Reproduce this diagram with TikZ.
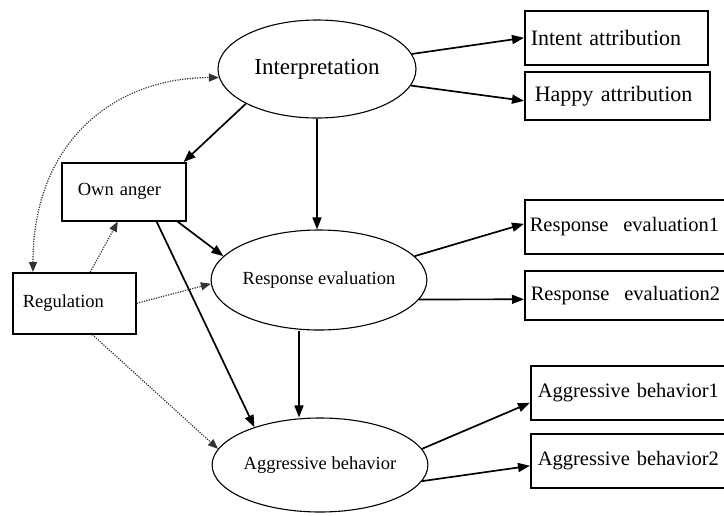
\documentclass[tikz,border=0pt]{standalone}
\usepackage{fontspec}
\setmainfont{Liberation Serif}
\usetikzlibrary{arrows.meta,calc,shapes.geometric}
\begin{document}
\begin{tikzpicture}[x=1pt,y=-1pt,
  lat/.style={draw, ellipse, line width=1.1pt, inner sep=0pt, font=\fontsize{18.5}{21}\selectfont},
  obs/.style={draw, rectangle, line width=1.6pt, inner ysep=0pt, anchor=north west, align=left, font=\fontsize{20.5}{24}\selectfont},
  tobs/.style={obs, font=\fontsize{22}{25}\selectfont},
  lobs/.style={obs, font=\fontsize{18.5}{21}\selectfont},
  arr/.style={line width=1.7pt, -{Triangle[length=12pt,width=9pt]}},
  dotarr/.style={line width=1.2pt, black!80, dash pattern=on 1.2pt off 1.3pt, -{Triangle[length=10pt,width=8pt]}}
]
\useasboundingbox (0,0) rectangle (724,515);
\clip (0,0) rectangle (724,515);

% latent variables
\node[lat, minimum width=198pt, minimum height=98pt, font=\fontsize{23}{26}\selectfont] (interp) at (317,69) {Interpretation};
\node[lat, minimum width=204pt, minimum height=100pt] (resp) at (319,280) {Response evaluation};
\node[lat, minimum width=204pt, minimum height=94pt] (aggr) at (320,465) {Aggressive behavior};

% observed boxes, left
\node[lobs, inner xsep=16pt, text width=92pt, minimum height=58pt] (own) at (61,162) {Own anger};
\node[lobs, inner xsep=10pt, text width=103pt, minimum height=61pt] (reg) at (12,272) {Regulation};

% observed boxes, right
\node[tobs, inner xsep=6pt, text width=171pt, minimum height=54pt] (intent) at (524,10) {Intent attribution};
\node[tobs, inner xsep=10pt, text width=165pt, minimum height=48pt] (happy) at (524,71) {Happy attribution};
\node[obs, inner xsep=5pt, text width=220pt, minimum height=54pt] (re1) at (524,199) {Response\hspace{15pt}evaluation1};
\node[obs, inner xsep=6pt, text width=218pt, minimum height=49pt] (re2) at (524,270) {Response\hspace{15pt}evaluation2};
\node[obs, inner xsep=7pt, text width=206pt, minimum height=54pt] (ab1) at (530,365) {Aggressive behavior1};
\node[obs, inner xsep=7pt, text width=206pt, minimum height=54pt] (ab2) at (530,433) {Aggressive behavior2};

% solid paths
\draw[arr] (interp.9) -- (intent.west);
\draw[arr] (interp.-10) -- ($(happy.west)+(0,5)$);
\draw[arr] (interp.206) -- ($(own.north east)+(-3,0)$);
\draw[arr] (interp.south) -- (interp.south |- resp.north);
\draw[arr] ($(own.south east)+(-9,0)$) -- (resp.166);
\draw[arr] ($(own.south east)+(-30,0)$) -- (aggr.150);
\coordinate (rs) at ($(resp.south)+(-20,0)$);
\draw[arr] (rs) -- (rs |- aggr.north);
\draw[arr] (resp.14) -- ($(re1.west)+(0,-3)$);
\draw[arr] (resp.-11) -- ($(re2.west)+(0,4)$);
\draw[arr] (aggr.9) -- ($(ab1.west)+(0,10)$);
\draw[arr] (aggr.-9) -- ($(ab2.west)+(0,5)$);

% dotted paths
\draw[dotarr] ($(reg.north)+(16,0)$) -- ($(own.south)+(-6,0)$);
\draw[dotarr] (reg.east) -- (resp.182);
\draw[dotarr] ($(reg.south)+(18,0)$) -- (aggr.171);
\draw[dotarr, {Triangle[length=10pt,width=8pt]}-{Triangle[length=10pt,width=8pt]}] ($(reg.north west)+(21,0)$) .. controls +(0,-130) and +(-105,0) .. (interp.185);
\end{tikzpicture}
\end{document}
